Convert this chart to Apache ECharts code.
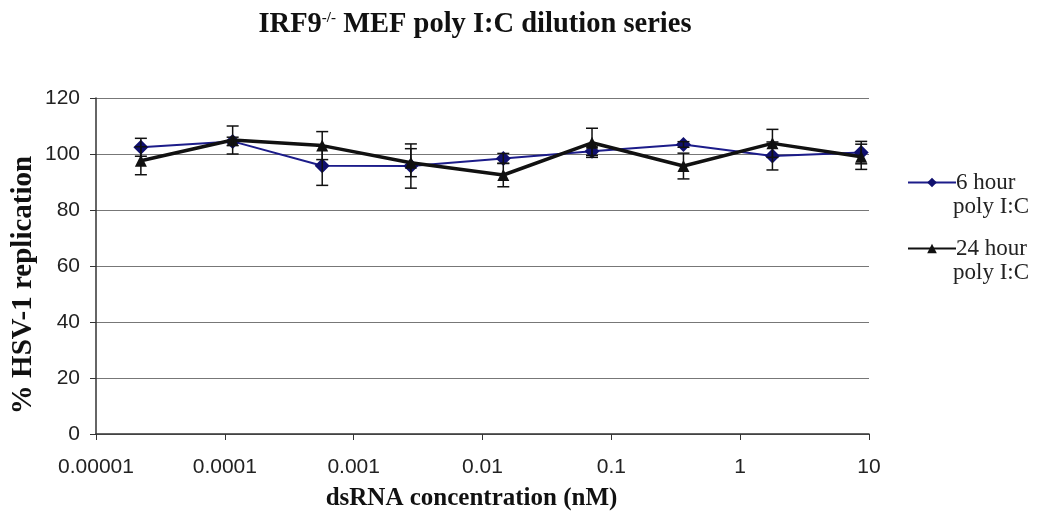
<!DOCTYPE html>
<html>
<head>
<meta charset="utf-8">
<script src="https://cdn.jsdelivr.net/npm/echarts@6/dist/echarts.min.js"></script>
<style>
  html, body { margin: 0; padding: 0; background: #fff; }
  #chart { width: 1041px; height: 516px; }
</style>
</head>
<body>
<div id="chart"></div>
<script>
// dilution series concentrations (nM)
const concentrations = [0.0000223, 0.000115, 0.00057, 0.00278, 0.0145, 0.0708, 0.363, 1.78, 8.7];
// 6 hour poly I:C
const sixHour = [102.4, 104.5, 95.8, 95.7, 98.4, 101, 103.4, 99.3, 100.5];
const sixHourErr = [3.2, 1.5, 7, 7.9, 1.8, 1.5, 1, 5, 4];
// 24 hour poly I:C
const dayHour = [97.6, 105, 103, 96.9, 92.5, 104, 95.7, 103.8, 99];
const dayHourErr = [5, 5, 5, 5, 4.2, 5.2, 4.6, 5, 4.5];

const seriesNames = ['6 hour', '24 hour'];
const seriesSub = 'poly I:C';

const SERIF = '"Liberation Serif", "DejaVu Serif", serif';
const SANS = '"Liberation Sans", Arial, sans-serif';

function pairs(ys) {
  return concentrations.map((x, i) => [x, ys[i]]);
}
function errRows(ys, errs) {
  return concentrations.map((x, i) => [x, ys[i] - errs[i], ys[i] + errs[i]]);
}

// vertical error bar with caps
function renderErr(params, api) {
  const lo = api.coord([api.value(0), api.value(1)]);
  const hi = api.coord([api.value(0), api.value(2)]);
  const w = 6;
  const st = { stroke: '#111', lineWidth: 1.5 };
  return {
    type: 'group',
    children: [
      { type: 'line', shape: { x1: lo[0], y1: lo[1], x2: hi[0], y2: hi[1] }, style: st },
      { type: 'line', shape: { x1: lo[0] - w, y1: lo[1], x2: lo[0] + w, y2: lo[1] }, style: st },
      { type: 'line', shape: { x1: hi[0] - w, y1: hi[1], x2: hi[0] + w, y2: hi[1] }, style: st }
    ]
  };
}

const chart = echarts.init(document.getElementById('chart'));

const option = {
  animation: false,
  backgroundColor: '#fff',
  title: {
    text: '{a|IRF9}{sup|-/-}{a| MEF poly I:C dilution series}',
    left: 470,
    top: 5,
    textAlign: 'center',
    textStyle: {
      rich: {
        a: { fontFamily: SERIF, fontWeight: 'bold', fontSize: 28.5, color: '#111' },
        sup: { fontFamily: SERIF, fontSize: 15, color: '#111', padding: [0, 0, 12, 0] }
      }
    }
  },
  legend: {
    orient: 'vertical',
    left: 902,
    top: 166,
    itemWidth: 48,
    itemHeight: 12,
    itemGap: 43,
    data: seriesNames,
    textStyle: { fontFamily: SERIF, fontSize: 23, color: '#222', padding: [0, 0, 0, -5] }
  },
  graphic: [
    { type: 'text', x: 953, y: 207, style: { text: seriesSub, font: '23px ' + SERIF, fill: '#222', verticalAlign: 'middle' } },
    { type: 'text', x: 953, y: 273, style: { text: seriesSub, font: '23px ' + SERIF, fill: '#222', verticalAlign: 'middle' } }
  ],
  grid: { left: 96, right: 172, top: 98, bottom: 82, outerBoundsMode: 'none', containLabel: false },
  xAxis: {
    type: 'log',
    logBase: 10,
    min: 0.00001,
    max: 10,
    name: 'dsRNA concentration (nM)',
    nameLocation: 'middle',
    nameGap: 52,
    nameMoveOverlap: false,
    nameTextStyle: { fontFamily: SERIF, fontWeight: 'bold', fontSize: 25, color: '#111', padding: [0, 22, 0, 0] },
    axisLine: { lineStyle: { color: '#333', width: 1.5 } },
    axisTick: { show: true, length: 6, inside: false, lineStyle: { color: '#333' } },
    axisLabel: {
      fontFamily: SANS, fontSize: 21, color: '#222', margin: 23,
      formatter: (v) => {
        const map = { '-5': '0.00001', '-4': '0.0001', '-3': '0.001', '-2': '0.01', '-1': '0.1', '0': '1', '1': '10' };
        return map[String(Math.round(Math.log10(v)))];
      }
    },
    splitLine: { show: false }
  },
  yAxis: {
    type: 'value',
    min: 0,
    max: 120,
    interval: 20,
    name: '% HSV-1 replication',
    nameLocation: 'middle',
    nameGap: 58,
    nameMoveOverlap: false,
    nameTextStyle: { fontFamily: SERIF, fontWeight: 'bold', fontSize: 29, color: '#111', padding: [0, 38, 0, 0] },
    axisLine: { show: true, lineStyle: { color: '#333', width: 1.5 } },
    axisTick: { show: true, length: 6, lineStyle: { color: '#333' } },
    axisLabel: { fontFamily: SANS, fontSize: 21, color: '#222', margin: 16 },
    splitLine: { lineStyle: { color: '#777', width: 1.2 } }
  },
  series: [
    {
      name: seriesNames[0],
      type: 'line',
      data: pairs(sixHour),
      symbol: 'diamond',
      symbolSize: 15,
      color: '#1c1c8a',
      lineStyle: { color: '#1c1c8a', width: 2 },
      itemStyle: { color: '#10106e' },
      z: 3
    },
    {
      name: seriesNames[1],
      type: 'line',
      data: pairs(dayHour),
      symbol: 'triangle',
      symbolSize: 12,
      color: '#111',
      lineStyle: { color: '#111', width: 3.5 },
      itemStyle: { color: '#111' },
      z: 4
    },
    {
      type: 'custom',
      renderItem: renderErr,
      data: errRows(sixHour, sixHourErr),
      encode: { x: 0, y: [1, 2] },
      z: 5,
      silent: true
    },
    {
      type: 'custom',
      renderItem: renderErr,
      data: errRows(dayHour, dayHourErr),
      encode: { x: 0, y: [1, 2] },
      z: 5,
      silent: true
    }
  ]
};

chart.setOption(option);
</script>
</body>
</html>
